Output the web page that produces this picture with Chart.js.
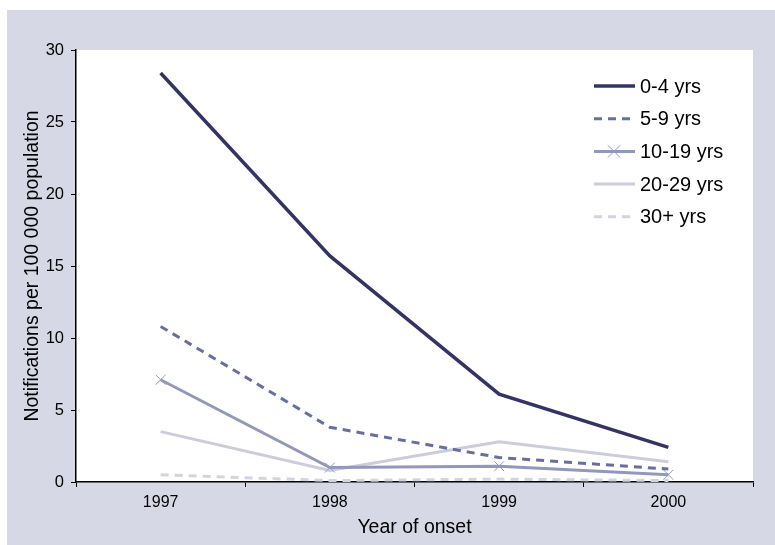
<!DOCTYPE html>
<html>
<head>
<meta charset="utf-8">
<script src="https://cdn.jsdelivr.net/npm/chart.js@4"></script>
<style>
  body { margin: 0; background: #fff; }
  #panel { position: absolute; left: 7px; top: 10px; width: 768px; height: 535px; background: #d7d8e5; }
</style>
</head>
<body>
<div id="panel"><canvas id="chart" width="768" height="535"></canvas></div>
<script>
const years = ["1997", "1998", "1999", "2000"];
const age0to4 = [28.4, 15.7, 6.1, 2.4];
const age5to9 = [10.8, 3.8, 1.7, 0.9];
const age10to19 = [7.1, 1.0, 1.1, 0.5];
const age20to29 = [3.5, 0.8, 2.8, 1.4];
const age30plus = [0.5, 0.1, 0.2, 0.1];
const yTicks = [0, 5, 10, 15, 20, 25, 30];

// white plot area
const plotBg = {
  id: "plotBg",
  beforeDraw(chart) {
    const { ctx, chartArea: a } = chart;
    ctx.save();
    ctx.fillStyle = "#ffffff";
    ctx.fillRect(a.left, a.top, a.right - a.left, a.bottom - a.top);
    ctx.restore();
  },
};

// legend drawn inside the plot, top right
const innerLegend = {
  id: "innerLegend",
  afterDraw(chart) {
    const ctx = chart.ctx;
    ctx.save();
    ctx.font = "20px 'Liberation Sans', Arial, sans-serif";
    ctx.textBaseline = "middle";
    chart.data.datasets.forEach((ds, i) => {
      const y = 76 + i * 32.7;
      ctx.strokeStyle = ds.borderColor;
      ctx.lineWidth = ds.borderWidth;
      ctx.setLineDash(ds.borderDash || []);
      ctx.beginPath();
      ctx.moveTo(587, y);
      ctx.lineTo(628, y);
      ctx.stroke();
      ctx.setLineDash([]);
      if (ds.pointStyle === "crossRot") {
        ctx.lineWidth = 1;
        ctx.beginPath();
        ctx.moveTo(601, y - 6); ctx.lineTo(613, y + 6);
        ctx.moveTo(613, y - 6); ctx.lineTo(601, y + 6);
        ctx.stroke();
      }
      ctx.fillStyle = "#000";
      ctx.fillText(ds.label, 633, y + 1);
    });
    ctx.restore();
  },
};

const line = (label, data, color, width, dash, extra) => Object.assign({
  label, data,
  borderColor: color,
  backgroundColor: color,
  borderWidth: width,
  borderDash: dash,
  pointRadius: 0,
  tension: 0,
  fill: false,
}, extra || {});

new Chart(document.getElementById("chart"), {
  type: "line",
  data: {
    labels: years,
    datasets: [
      line("0-4 yrs", age0to4, "#333366", 3.5, []),
      line("5-9 yrs", age5to9, "#6670a0", 3, [8, 6]),
      line("10-19 yrs", age10to19, "#9298bb", 3, [], {
        pointStyle: "crossRot", pointRadius: 7, pointBorderWidth: 1,
      }),
      line("20-29 yrs", age20to29, "#ccccdd", 3, []),
      line("30+ yrs", age30plus, "#d2d4e3", 3, [8, 6]),
    ],
  },
  plugins: [plotBg, innerLegend],
  options: {
    responsive: false,
    animation: false,
    layout: { padding: { left: 10, top: 40, right: 22, bottom: 2 } },
    plugins: { legend: { display: false }, tooltip: { enabled: false } },
    scales: {
      x: {
        offset: true,
        grid: { offset: true, drawOnChartArea: false, tickLength: 5, tickColor: "#000" },
        border: { color: "#000", width: 1.5 },
        ticks: { color: "#000", padding: 6, font: { size: 16, family: "'Liberation Sans', Arial" } },
        title: {
          display: true, text: "Year of onset", color: "#000",
          padding: { top: 0, bottom: 4 },
          font: { size: 19.5, family: "'Liberation Sans', Arial" },
        },
        afterFit(scale) { scale.height = 61; },
      },
      y: {
        min: 0, max: 30,
        afterBuildTicks(scale) { scale.ticks = yTicks.map(v => ({ value: v })); },
        grid: { drawOnChartArea: false, tickLength: 5, tickColor: "#000" },
        border: { color: "#000", width: 1.5 },
        ticks: { color: "#000", padding: 7, font: { size: 16.5, family: "'Liberation Sans', Arial" } },
        title: {
          display: true, text: "Notifications per 100 000 population", color: "#000",
          padding: { top: 4, bottom: 0 },
          font: { size: 19.5, family: "'Liberation Sans', Arial" },
        },
        afterFit(scale) { scale.width = 59; },
      },
    },
  },
});
</script>
</body>
</html>
